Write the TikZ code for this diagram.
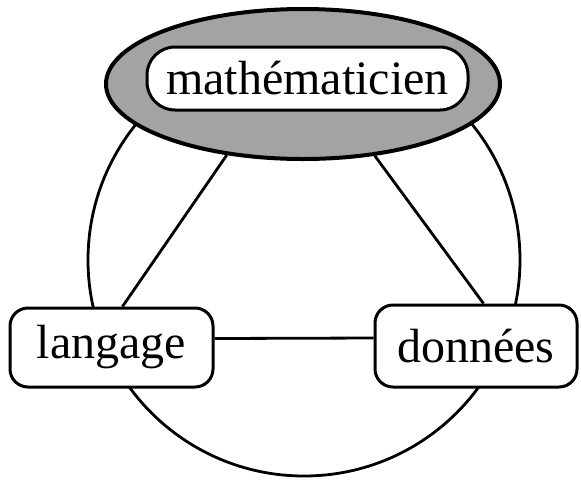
\documentclass[tikz,border=0pt]{standalone}
\usepackage{fontspec}
\setmainfont{Liberation Serif}
\usepackage{tikz}
\usetikzlibrary{shapes.geometric, positioning}

\begin{document}
\begin{tikzpicture}[
  x=0.5pt, y=0.5pt,
  rolebox/.style={rectangle, draw=black, line width=1.5pt, rounded corners=9pt,
                  fill=white, inner sep=0pt, align=center,
                  font=\fontsize{24}{28}\selectfont},
  headbox/.style={rolebox, rounded corners=14pt},
  halo/.style={ellipse, draw=black, line width=2pt, fill=black!36, inner sep=0pt},
  link/.style={line width=1.4pt}
]
\useasboundingbox (0,0) rectangle (581,479);

% big circle behind everything
\draw[link] (304,219) circle[radius=108pt];

\node[halo, minimum width=197pt, minimum height=75pt] (halo) at (303,395) {};
\node[headbox, minimum width=160.5pt, minimum height=31.5pt] (math) at (307.5,400.5) {mathématicien};

\node[rolebox, minimum width=101.5pt, minimum height=39.5pt] (lang) at (111.5,131.5) {langage};
\node[rolebox, minimum width=101pt, minimum height=41pt] (donnees) at (476,133) {données};

\draw[link] (halo.223) -- (lang.75);
\draw[link] (halo.315) -- (donnees.80);
\draw[link] ([yshift=4.5pt]lang.east) -- ([yshift=4pt]donnees.west);
\end{tikzpicture}
\end{document}
